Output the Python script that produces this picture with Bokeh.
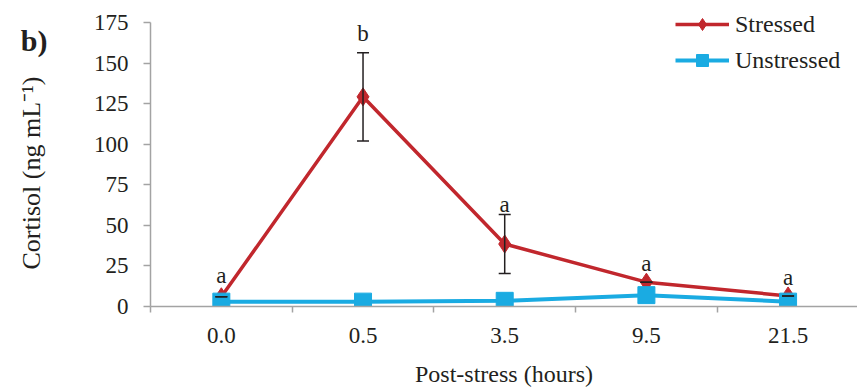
from bokeh.plotting import figure
from bokeh.models import (Range1d, FixedTicker, ColumnDataSource, Whisker, Legend,
                          LegendItem, LinearAxis)
from bokeh.core.properties import value
from bokeh.embed import file_html
from bokeh.resources import INLINE

# ---- data ----
hours = ["0.0", "0.5", "3.5", "9.5", "21.5"]
stressed = [6, 129.2, 38.5, 15, 6.5]
stressed_err = [0, 27.2, 18.2, 0, 0]
unstressed = [3, 3, 3.5, 7, 3]
letters = ["a", "b", "a", "a", "a"]
letter_y = [19, 168, 63, 26.5, 18]
y_ticks = [0, 25, 50, 75, 100, 125, 150, 175]
panel_tag = "b)"
y_title = "Cortisol (ng mL\u207b\u00b9)"

RED = "#c1272d"
BLUE = "#1aabe2"
TXT = "#231f20"
AX = "#a3a3a3"
FONT = "Liberation Serif"

xs = list(range(len(hours)))

p = figure(width=857, height=389, output_backend="svg", toolbar_location=None,
           x_range=Range1d(-0.5, 4.49), y_range=Range1d(0, 188.55),
           min_border_left=150, min_border_right=0, min_border_top=0,
           min_border_bottom=83)
p.outline_line_color = None
p.grid.visible = False
p.background_fill_color = "white"

# x axis
p.xaxis.ticker = FixedTicker(ticks=xs, minor_ticks=[-0.5, 0.5, 1.5, 2.5, 3.5])
p.xaxis.major_label_overrides = {i: h for i, h in zip(xs, hours)}
p.xaxis.major_tick_line_color = None
p.xaxis.major_tick_out = 0
p.xaxis.major_tick_in = 0
p.xaxis.minor_tick_out = 6
p.xaxis.minor_tick_in = 0
p.xaxis.minor_tick_line_color = AX
p.xaxis.minor_tick_line_width = 1.5
p.xaxis.major_label_standoff = 15
p.xaxis.axis_label = "Post-stress (hours)"
p.xaxis.axis_label_standoff = 15

# main y axis
p.yaxis.ticker = FixedTicker(ticks=y_ticks)
p.yaxis.bounds = (y_ticks[0], y_ticks[-1])
p.yaxis.major_tick_out = 7
p.yaxis.major_tick_in = 0
p.yaxis.minor_tick_line_color = None
p.yaxis.major_tick_line_color = AX
p.yaxis.major_tick_line_width = 1.5
p.yaxis.major_label_standoff = 15

for ax in (p.xaxis, p.yaxis):
    ax.axis_line_color = AX
    ax.axis_line_width = 1.5
    ax.major_label_text_font = FONT
    ax.major_label_text_font_size = "23px"
    ax.major_label_text_color = TXT
    ax.axis_label_text_font = FONT
    ax.axis_label_text_font_size = "24px"
    ax.axis_label_text_font_style = "normal"
    ax.axis_label_text_color = TXT

# outer left axis: carries the panel tag and the y title
outer = LinearAxis(ticker=FixedTicker(ticks=[164]),
                   major_label_overrides={164: panel_tag},
                   axis_line_color=None, major_tick_line_color=None,
                   minor_tick_line_color=None, major_tick_out=0, major_tick_in=0,
                   major_label_standoff=43,
                   major_label_text_font=FONT, major_label_text_font_size="30px",
                   major_label_text_font_style="bold", major_label_text_color=TXT,
                   axis_label=y_title + "\u00a0" * 6, axis_label_standoff=-28,
                   axis_label_text_font=FONT, axis_label_text_font_size="26px",
                   axis_label_text_font_style="normal", axis_label_text_color=TXT)
p.add_layout(outer, "left")

# series
src = ColumnDataSource(dict(
    x=xs, s=stressed, u=unstressed,
    lo=[v - e for v, e in zip(stressed, stressed_err)],
    hi=[v + e for v, e in zip(stressed, stressed_err)],
    ly=letter_y, lt=letters))

r_line = p.line("x", "s", source=src, line_color=RED, line_width=3.5)
r_mark = p.scatter("x", "s", source=src, marker="diamond", size=18,
                   fill_color=RED, line_color=RED)

wh = Whisker(base="x", lower="lo", upper="hi", source=src,
             line_color=TXT, line_width=1.5, level="glyph")
wh.upper_head.size = 12
wh.lower_head.size = 12
wh.upper_head.line_color = TXT
wh.lower_head.line_color = TXT
wh.upper_head.line_width = 1.5
wh.lower_head.line_width = 1.5
p.add_layout(wh)

b_line = p.line("x", "u", source=src, line_color=BLUE, line_width=4)
b_mark = p.scatter("x", "u", source=src, marker="square", size=17,
                   fill_color=BLUE, line_color=BLUE)

p.text("x", "ly", text="lt", source=src, text_font=value(FONT),
       text_font_size="23px", text_color=TXT, text_align="center",
       text_baseline="middle")

legend = Legend(items=[LegendItem(label="Stressed", renderers=[r_line, r_mark]),
                       LegendItem(label="Unstressed", renderers=[b_line, b_mark])],
                location=(525, 231))
legend.background_fill_alpha = 0
legend.border_line_color = None
legend.padding = 0
legend.margin = 0
legend.spacing = 6
legend.glyph_width = 54
legend.glyph_height = 30
legend.label_height = 30
legend.label_standoff = 6
legend.label_text_font = FONT
legend.label_text_font_size = "24px"
legend.label_text_color = TXT
p.add_layout(legend)

open("out.html", "w").write(file_html(p, INLINE))
